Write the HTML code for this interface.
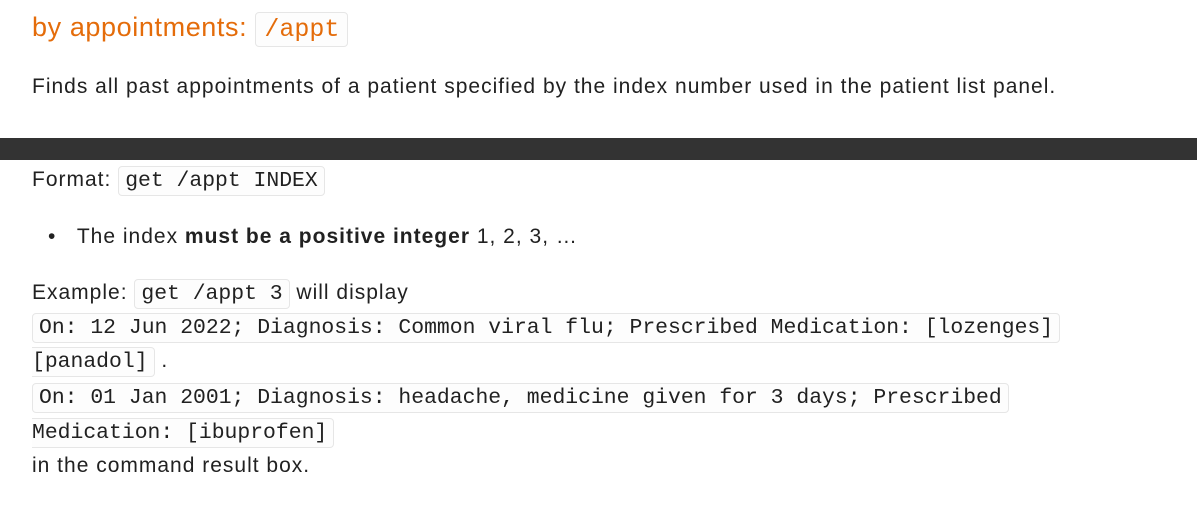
<!DOCTYPE html>
<html><head><meta charset="utf-8"><style>
body{margin:0;width:1197px;height:513px;background:#fff;position:relative;overflow:hidden;font-family:"Liberation Sans",sans-serif;color:#212121}
.l{position:absolute;left:32px;white-space:nowrap;font-size:21px;letter-spacing:1px;line-height:24px}
code{font-family:"Liberation Mono","DejaVu Sans Mono",monospace;font-size:21.4px;letter-spacing:0;background:#fdfdfd;border:1px solid #e6e6e6;border-radius:4px;padding:2px 6px;color:#212121}
</style></head><body>
<div class="l" style="top:10px;font-size:27px;letter-spacing:0.6px;line-height:34px;color:#e46c0a">by appointments: <code style="font-size:25px;color:#e46c0a;padding:2px 8px">/appt</code></div>
<div class="l" style="top:75px">Finds all past appointments of a patient specified by the index number used in the patient list panel.</div>
<div style="position:absolute;left:0;top:138px;width:1197px;height:22px;background:#333"></div>
<div class="l" style="top:168px">Format: <code>get /appt INDEX</code></div>
<div class="l" style="top:225px;left:48px">•&nbsp;&nbsp;&nbsp;The index <b>must be a positive integer</b> 1, 2, 3, …</div>
<div class="l" style="top:281px">Example: <code>get /appt 3</code> will display</div>
<div class="l" style="top:315px"><code>On: 12 Jun 2022; Diagnosis: Common viral flu; Prescribed Medication: [lozenges]</code></div>
<div class="l" style="top:349px"><code style="padding-left:0;border-left:none;border-radius:0 4px 4px 0">[panadol]</code> .</div>
<div class="l" style="top:385px"><code>On: 01 Jan 2001; Diagnosis: headache, medicine given for 3 days; Prescribed</code></div>
<div class="l" style="top:420px"><code style="padding-left:0;border-left:none;border-radius:0 4px 4px 0">Medication: [ibuprofen]</code></div>
<div class="l" style="top:454px">in the command result box.</div>
</body></html>
